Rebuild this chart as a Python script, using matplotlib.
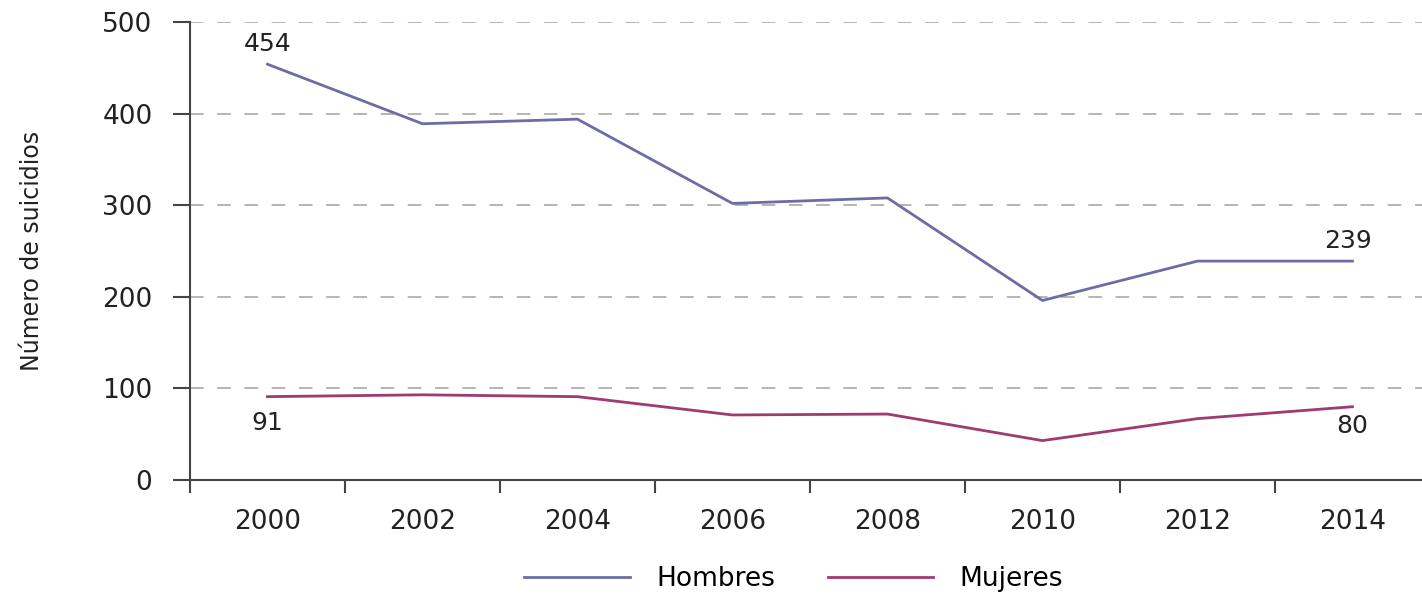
import numpy as np
import matplotlib.pyplot as plt

years = ['2000', '2002', '2004', '2006', '2008', '2010', '2012', '2014']
hombres = [454, 389, 394, 302, 308, 196, 239, 239]
mujeres = [91, 93, 91, 71, 72, 43, 67, 80]

plt.rcParams['font.family'] = ['DejaVu Sans']
fig = plt.figure(figsize=(14.22, 5.97), dpi=100)
ax = fig.add_axes([0.1336, 0.196, 0.872, 0.767])

x = np.arange(len(years))
ax.plot(x, hombres, color='#6d6ca6', lw=2, label='Hombres')
ax.plot(x, mujeres, color='#a03b6f', lw=2, label='Mujeres')

ax.set_xlim(-0.5, 7.5)
ax.set_ylim(0, 500)
ax.set_yticks(range(0, 501, 100))
ax.set_xticks(x)
ax.set_xticklabels(years)
ax.set_xticks(np.arange(-0.5, 7.6, 1), minor=True)
ax.tick_params(axis='x', which='major', length=0, pad=21, labelsize=19, colors='#222222')
ax.tick_params(axis='x', which='minor', length=9, width=1.5, color='#444444', direction='out')
ax.tick_params(axis='y', length=12, width=1.5, color='#444444', labelsize=19, labelcolor='#222222', pad=15)

for v in range(100, 501, 100):
    ax.axhline(v, color='#b5b5b5', lw=1.4, ls=(0, (7, 7)), zorder=0)

for s in ['top', 'right']:
    ax.spines[s].set_visible(False)
for s in ['left', 'bottom']:
    ax.spines[s].set_color('#444444')
    ax.spines[s].set_linewidth(1.5)

ax.set_ylabel('Número de suicidios', fontsize=17, color='#222222', labelpad=42)

ax.annotate(str(hombres[0]), (x[0], hombres[0]), xytext=(0, 6), textcoords='offset points',
            ha='center', va='bottom', fontsize=18, color='#222222')
ax.annotate(str(hombres[-1]), (x[-1], hombres[-1]), xytext=(-3, 6), textcoords='offset points',
            ha='center', va='bottom', fontsize=18, color='#222222')
ax.annotate(str(mujeres[0]), (x[0], mujeres[0]), xytext=(0, -10), textcoords='offset points',
            ha='center', va='top', fontsize=18, color='#222222')
ax.annotate(str(mujeres[-1]), (x[-1], mujeres[-1]), xytext=(0, -5), textcoords='offset points',
            ha='center', va='top', fontsize=18, color='#222222')

fig.legend(loc='center', bbox_to_anchor=(0.558, 0.03), ncol=2, frameon=False,
           fontsize=19, handlelength=4.0, columnspacing=2.0, handletextpad=1.0)

fig.savefig('out.png', dpi=100)
